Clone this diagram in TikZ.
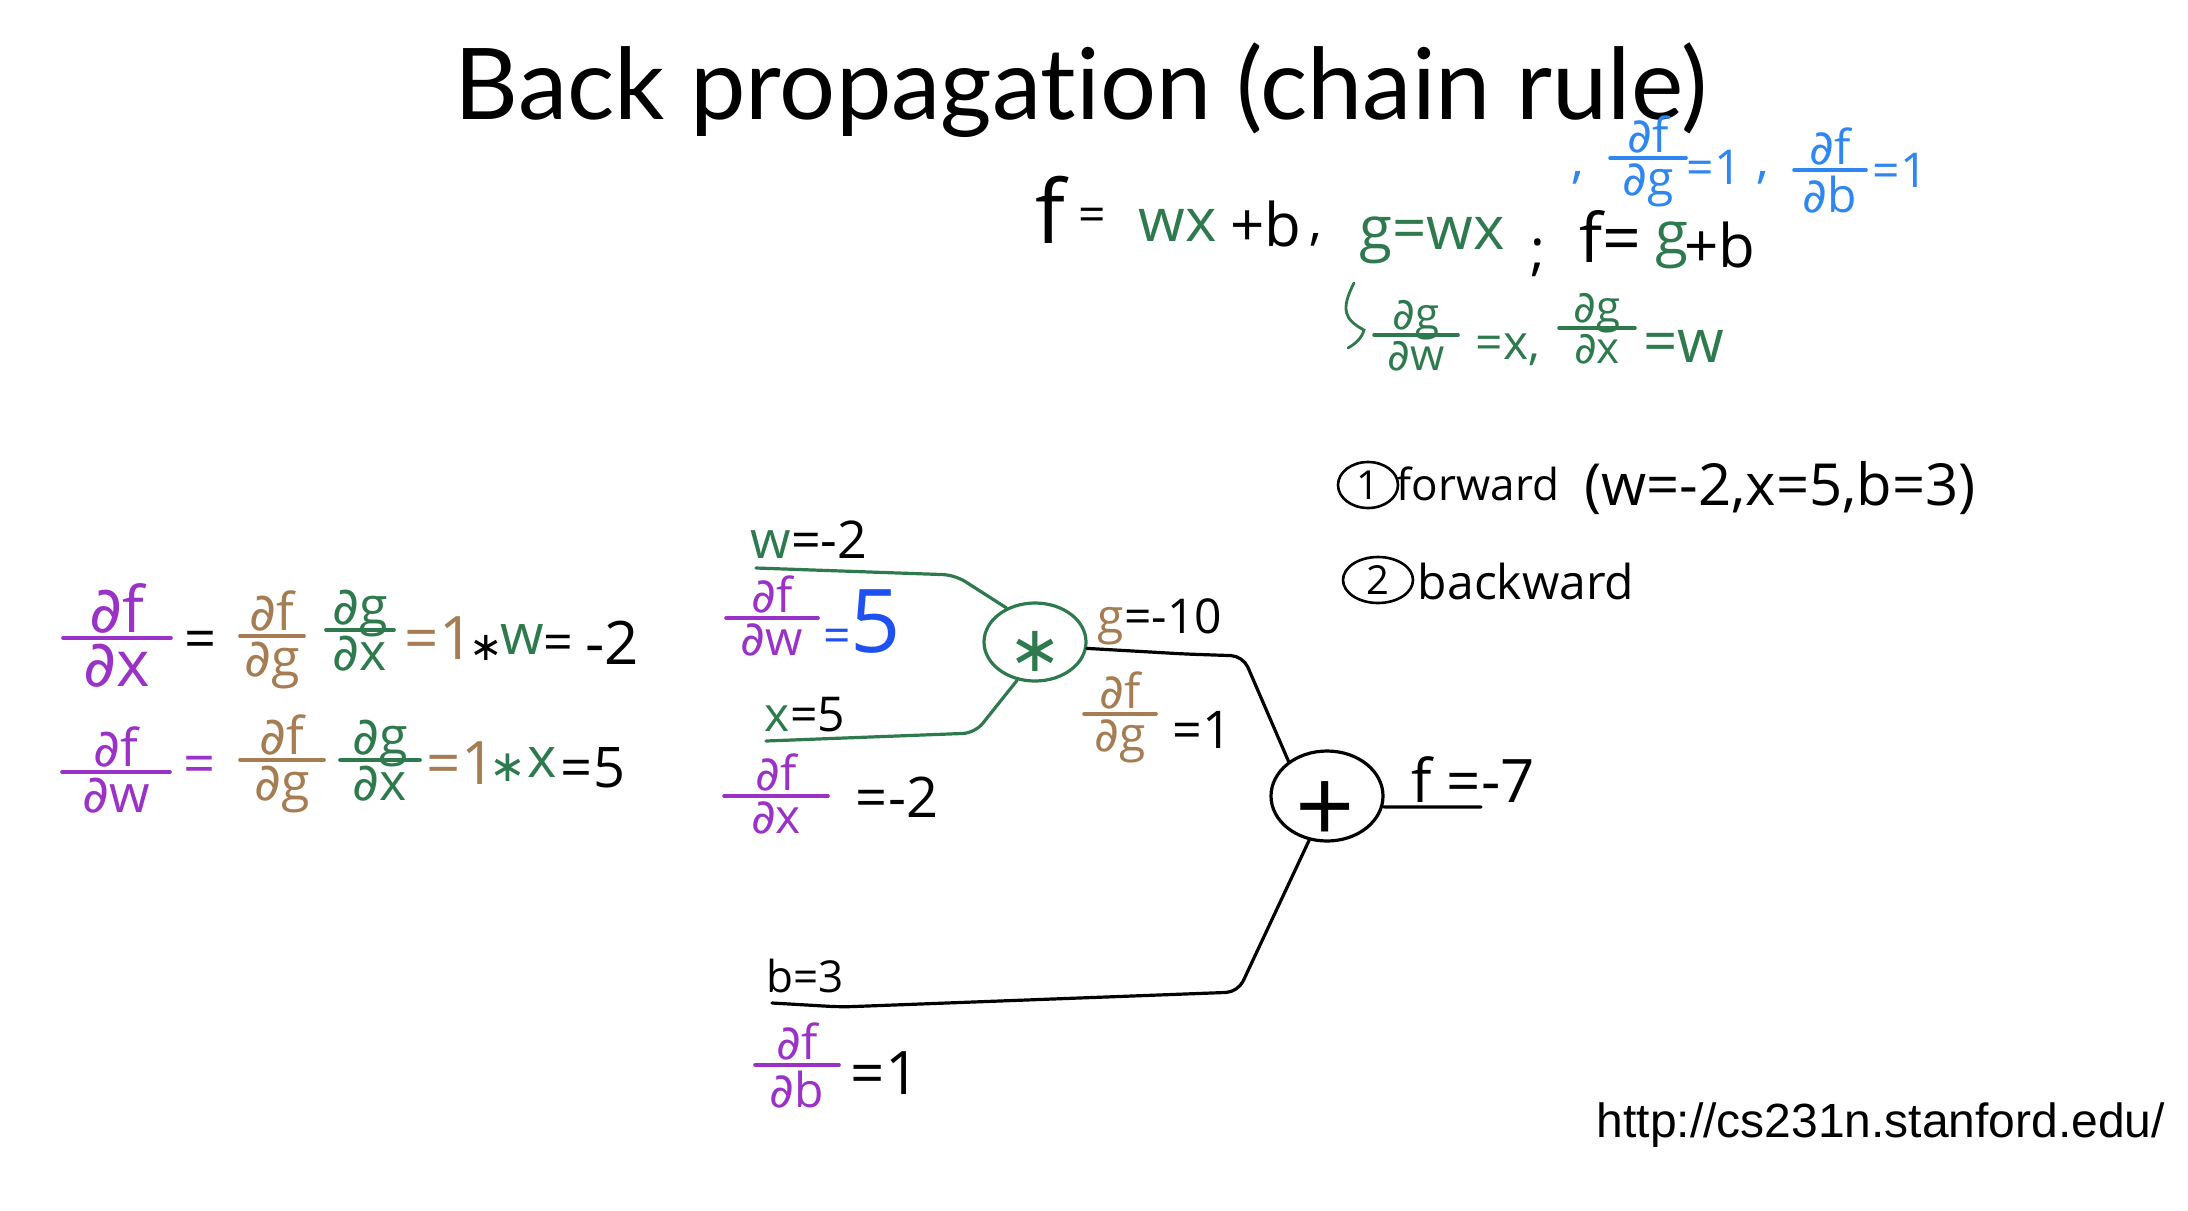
\documentclass[tikz,border=0pt]{standalone}
\usepackage{fontspec}
\setmainfont{Open Sans}
\newfontfamily\titlefont[Ligatures=CommonOff]{Lato}
\newfontfamily\urlfont{Liberation Sans}
\newfontfamily\symfont{DejaVu Sans}
\usetikzlibrary{shapes.geometric}
\definecolor{hgreen}{HTML}{2E7A4E}
\definecolor{hpurple}{HTML}{9A32C8}
\definecolor{hbrown}{HTML}{A67C52}
\definecolor{hblue}{HTML}{2F86F0}
\definecolor{hdeep}{HTML}{1F50F0}
\newcommand\hs[1]{\fontsize{#1}{#1}\selectfont}
\newcommand\pdl{{\symfont ∂}}
\newcommand\astr{{\symfont ∗}}
\tikzset{
  hand/.style={inner sep=0pt,outer sep=0pt,text=black},
  wire/.style={draw=black,line width=1.6pt,line cap=round,line join=round,rounded corners=6pt},
  gwire/.style={wire,draw=hgreen},
  bar/.style={line width=1.8pt,line cap=round},
  opnode/.style={ellipse,draw,line width=1.6pt,inner sep=0pt},
  numcirc/.style={ellipse,draw=black,line width=1.3pt,inner sep=0pt}
}
% name, cx, bar y, half width, colour, size, numerator, denominator
\newcommand\hfrac[8]{%
  \node[hand,text=#5,anchor=base] (#1n) at ([yshift=3pt]#2,#3) {\hs{#6}\pdl#7};
  \node[hand,text=#5,anchor=north] (#1d) at ([yshift=-3pt]#2,#3) {\hs{#6}\pdl#8};
  \coordinate (#1l) at ([xshift=-#4pt]#2,#3);
  \coordinate (#1r) at ([xshift=#4pt]#2,#3);
  \draw[bar,draw=#5] (#1l) -- (#1r);
}
\newcommand\hl[5]{\node[hand] (#1) at (#2,#3) {\hs{#4}#5};}
\begin{document}
\begin{tikzpicture}[x=0.5pt,y=-0.5pt]
\useasboundingbox[fill=white] (0,0) rectangle (2188,1210);
\node[hand,anchor=base] (title) at (1081,119) {\titlefont\hs{49.5}Back propagation (chain rule)};
\node[hand,anchor=base east] (url) at (2165,1137) {\urlfont\hs{24}http://cs231n.stanford.edu/};

% formula at the top
\hl{fa}{1050}{210}{44}{f}
\hl{feq}{1092}{220}{24}{=}
\hl{wx}{1178}{225}{30}{\textcolor{hgreen}{wx}}
\hl{pb}{1266}{224}{30}{+b}
\hl{ca}{1316}{240}{26}{,}
\hl{gwx}{1432}{240}{30}{\textcolor{hgreen}{g=wx}}
\hl{semi}{1538}{258}{28}{;}
\hl{fb}{1610}{236}{34}{f=}
\hl{gb}{1672}{245}{30}{\textcolor{hgreen}{g}}
\hl{pbb}{1720}{245}{30}{+b}

% blue derivatives
\hl{bca}{1578}{178}{26}{\textcolor{hblue}{,}}
\hfrac{bg}{1648}{158}{19}{hblue}{24}{f}{g}
\hl{beqa}{1714}{167}{24}{\textcolor{hblue}{=1}}
\hl{bcb}{1763}{178}{26}{\textcolor{hblue}{,}}
\hfrac{bb}{1830}{170}{18}{hblue}{24}{f}{b}
\hl{beqb}{1900}{170}{24}{\textcolor{hblue}{=1}}

% green derivatives
\coordinate (hka) at (1354,283);
\coordinate (hkb) at (1340,310);
\coordinate (hkc) at (1364,330);
\coordinate (hkd) at (1348,348);
\draw[hgreen,line width=1.4pt,line cap=round] (hka) .. controls (hkb) and (1345,320) .. (hkc) .. controls (1362,338) and (1355,344) .. (hkd);
\hfrac{ga}{1416}{335}{21}{hgreen}{22}{g}{w}
\hl{gea}{1508}{350}{24}{\textcolor{hgreen}{=x,}}
\hfrac{gc}{1597}{328}{19}{hgreen}{22}{g}{x}
\hl{geb}{1684}{346}{30}{\textcolor{hgreen}{=w}}

% steps
\node[numcirc,minimum width=30pt,minimum height=23pt] (one) at (1368,485) {\hs{20}1};
\hl{fwd}{1478}{484}{22}{forward}
\hl{vals}{1780}{488}{29}{(w=-2,x=5,b=3)}
\node[numcirc,minimum width=35pt,minimum height=23pt] (two) at (1378,580) {\hs{20}2};
\hl{bkw}{1526}{581}{24}{backward}

% gates
\node[opnode,draw=hgreen,minimum width=51pt,minimum height=39pt] (mul) at (1035,642) {};
\node[hand,text=hgreen] (star) at (1035,651) {\hs{32}\astr};
\node[opnode,draw=black,minimum width=56pt,minimum height=45pt] (add) at (1327,796) {};
\node[hand] (plus) at (1325,813) {\hs{52}+};

% wires
\coordinate (wa) at (756,568);
\coordinate (wb) at (955,575);
\draw[gwire] (wa) -- (wb) -- (mul.130);
\coordinate (xa) at (766,741);
\coordinate (xb) at (975,733);
\draw[gwire] (xa) -- (xb) -- (mul.245);
\coordinate (ga) at (1185,654);
\coordinate (gb) at (1243,656);
\draw[wire] (mul.-7) -- (ga) -- (gb) -- (add.138);
\coordinate (ba) at (772,1003);
\coordinate (bb) at (841,1007);
\coordinate (bc) at (1238,992);
\draw[wire] (ba) -- (bb) -- (bc) -- (add.248);
\coordinate (fo) at (1481,807);
\draw[wire] (add.-11) -- (fo);

% labels on the wires
\hl{lw}{809}{540}{26}{\textcolor{hgreen}{w}=-2}
\hfrac{dw}{772}{618}{23}{hpurple}{24}{f}{w}
\hl{dweq}{862}{622}{24}{\textcolor{hdeep}{=\hs{44}5}}
\hl{lx}{805}{715}{24}{\textcolor{hgreen}{x}=5}
\hfrac{dx}{776}{796}{26}{hpurple}{24}{f}{x}
\hl{dxeq}{897}{797}{28}{=-2}
\hl{lg}{1160}{622}{24}{\textcolor{hbrown}{g}=-10}
\hfrac{dg}{1120}{714}{18}{hbrown}{24}{f}{g}
\hl{dgeq}{1202}{730}{26}{=1}
\hl{lf}{1473}{780}{30}{f =-7}
\hl{lb}{805}{976}{22}{b=3}
\hfrac{db}{797}{1065}{21}{hpurple}{24}{f}{b}
\hl{dbeq}{885}{1073}{30}{=1}

% left equations, row 1
\hfrac{aa}{117}{638}{27}{hpurple}{32}{f}{x}
\hl{aeq}{201}{645}{28}{=}
\hfrac{ab}{272}{636}{16}{hbrown}{26}{f}{g}
\hfrac{ac}{360}{630}{17}{hgreen}{26}{g}{x}
\hl{ad}{439}{638}{30}{\textcolor{hbrown}{=1}}
\hl{ae}{486}{648}{20}{\astr}
\hl{af}{522}{640}{28}{\textcolor{hgreen}{w}}
\hl{ag}{558}{648}{26}{=}
\hl{ah}{612}{643}{30}{-2}

% left equations, row 2
\hfrac{ba}{116}{772}{27}{hpurple}{26}{f}{w}
\hl{beq}{200}{770}{28}{\textcolor{hpurple}{=}}
\hfrac{bcf}{282}{760}{21}{hbrown}{26}{f}{g}
\hfrac{bd}{380}{760}{20}{hgreen}{26}{g}{x}
\hl{be}{461}{763}{30}{\textcolor{hbrown}{=1}}
\hl{bf}{508}{768}{22}{\textcolor{hgreen}{\astr}}
\hl{bg}{542}{763}{28}{\textcolor{hgreen}{x}}
\hl{bh}{593}{768}{28}{=5}
\end{tikzpicture}
\end{document}
